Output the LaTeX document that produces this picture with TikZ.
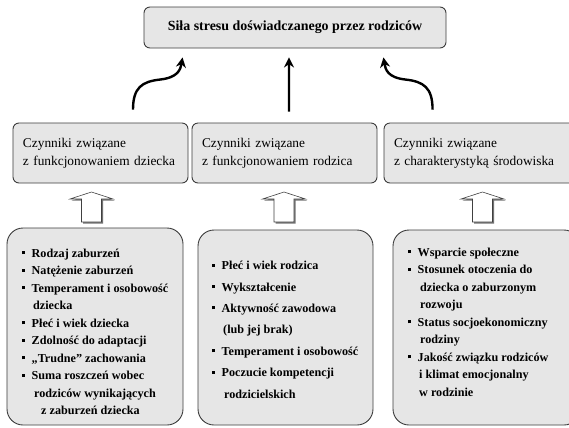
\documentclass[tikz,border=0pt]{standalone}
\usepackage{fontspec}
\setmainfont{Liberation Serif}
\usetikzlibrary{arrows.meta, shadows, positioning}
\definecolor{boxgray}{HTML}{E6E6E6}
\definecolor{edgegray}{HTML}{3C3C3C}
\tikzset{
    topbox/.style={draw=edgegray, fill=boxgray, rounded corners=6bp, line width=0.9bp,
      minimum width=302bp, minimum height=41bp, inner sep=0pt,
      font=\bfseries\fontsize{14}{16}\selectfont},
    midbox/.style={draw=edgegray, fill=boxgray, rounded corners=6bp, line width=0.9bp,
      minimum height=60bp, inner xsep=10bp, inner ysep=0pt, align=left,
      font=\fontsize{13.4}{18}\selectfont},
    listbox/.style={draw=edgegray, fill=boxgray, rounded corners=16bp, line width=0.9bp},
    listtext/.style={anchor=north west, inner sep=0pt, align=left},
    bigarrow/.style={line width=2.4bp, -{Stealth[length=10bp, width=10bp]}},
    hollow/.style={draw=black!75, fill=white, line width=0.6bp,
      drop shadow={shadow xshift=1.6bp, shadow yshift=-1.6bp, fill=black!55, opacity=1}}
}
\newcommand{\blt}{\makebox[9.5bp][l]{\rule[3bp]{3bp}{3bp}}}

\begin{document}
\begin{tikzpicture}[x=1bp, y=-1bp]
  \clip (0,0) rectangle (569,427);
  \node [topbox] (stress) at (295,27.5) {Siła stresu doświadczanego przez rodziców};

  \node [midbox, minimum width=175bp, text width=155bp] (child) at (100.5,153)
    {Czynniki związane\\z funkcjonowaniem dziecka};
  \node [midbox, minimum width=185bp, text width=165bp] (parent) at (284.5,153)
    {Czynniki związane\\z funkcjonowaniem rodzica};
  \node [midbox, minimum width=196bp, text width=176bp] (env) at (482,153)
    {Czynniki związane\\z charakterystyką środowiska};

  \draw [bigarrow] ([xshift=32.5bp, yshift=13bp]child.north)
    .. controls +(0,-22) and +(-18,2) .. ++(27,-30)
    .. controls +(18,-2) and +(-2,12) .. ([xshift=39bp, yshift=-9bp]stress.south west);
  \draw [bigarrow] ([xshift=4.5bp, yshift=11bp]parent.north)
    -- ([xshift=-6bp, yshift=-9bp]stress.south);
  \draw [bigarrow] ([xshift=49bp, yshift=13bp]env.north west)
    .. controls +(0,-22) and +(18,2) .. ++(-27,-30)
    .. controls +(-18,-2) and +(2,12) .. ([xshift=-63bp, yshift=-9bp]stress.south east);

  \node [listbox, minimum width=176bp, minimum height=197bp] (childlist) at (95,326.5) {};
  \node [listbox, minimum width=175bp, minimum height=195bp] (parentlist) at (285.5,327.5) {};
  \node [listbox, minimum width=187bp, minimum height=195bp] (envlist) at (486.5,327.5) {};

  \foreach \cx/\up/\down in {91.5/child/childlist, 284/parent/parentlist, 482.5/env/envlist} {
    \draw [hollow] (\cx,192) -- (\cx+21.5,199) -- (\cx+10,199) -- (\cx+10,222)
      -- (\cx-10,222) -- (\cx-10,199) -- (\cx-21.5,199) -- cycle;
  }

  \node [listtext, font=\bfseries\fontsize{12.2}{17.6}\selectfont] (childitems) at (22,248.5)
    {\blt Rodzaj zaburzeń\\
     \blt Natężenie zaburzeń\\
     \blt Temperament i osobowość\\
     \hspace*{11bp}dziecka\\
     \blt Płeć i wiek dziecka\\
     \blt Zdolność do adaptacji\\
     \blt „Trudne” zachowania\\
     \blt Suma roszczeń wobec\\
     \hspace*{12bp}rodziców wynikających\\
     \hspace*{19bp}z zaburzeń dziecka};
  \node [listtext, font=\bfseries\fontsize{12.2}{21.5}\selectfont] (parentitems) at (212,261)
    {\blt Płeć i wiek rodzica\\
     \blt Wykształcenie\\
     \blt Aktywność zawodowa\\
     \hspace*{11bp}(lub jej brak)\\
     \blt Temperament i osobowość\\
     \blt Poczucie kompetencji\\
     \hspace*{12bp}rodzicielskich};
  \node [listtext, font=\bfseries\fontsize{12.2}{17.6}\selectfont] (envitems) at (408,247.5)
    {\blt Wsparcie społeczne\\
     \blt Stosunek otoczenia do\\
     \hspace*{12bp}dziecka o zaburzonym\\
     \hspace*{12bp}rozwoju\\
     \blt Status socjoekonomiczny\\
     \hspace*{12bp}rodziny\\
     \blt Jakość związku rodziców\\
     \hspace*{11bp}i klimat emocjonalny\\
     \hspace*{11bp}w rodzinie};
\end{tikzpicture}
\end{document}
